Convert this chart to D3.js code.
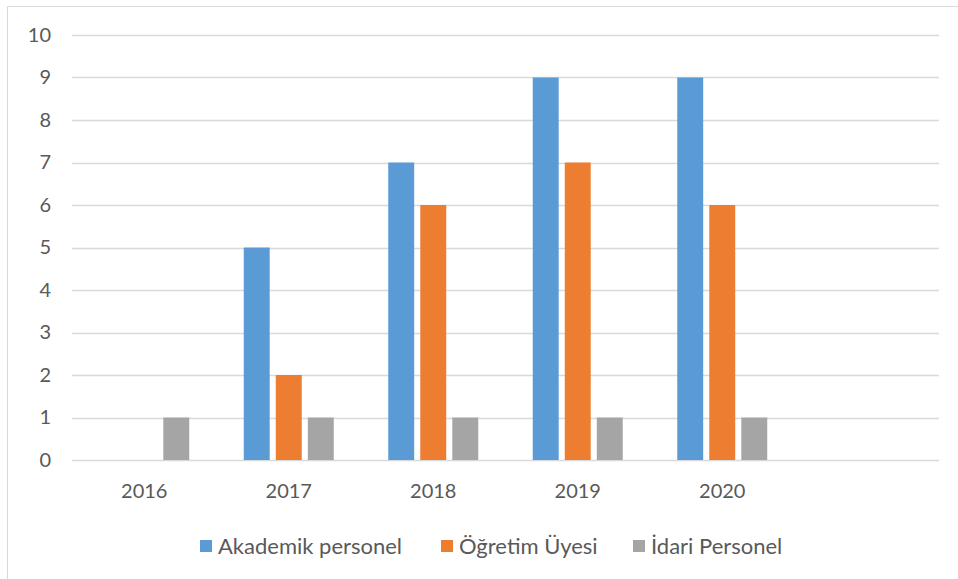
<!DOCTYPE html>
<html>
<head>
<meta charset="utf-8">
<script src="https://cdn.jsdelivr.net/npm/d3@7"></script>
<style>
  body { margin: 0; background: #fff; }
  svg text { font-family: Lato, "Open Sans", sans-serif; fill: #595959; }
</style>
</head>
<body>
<div id="chart"></div>
<script>
var years = ["2016", "2017", "2018", "2019", "2020", ""]
var seriesNames = ["Akademik personel", "Öğretim Üyesi", "İdari Personel"]
var akademik = [0, 5, 7, 9, 9, null]
var ogretim = [0, 2, 6, 7, 6, null]
var idari = [1, 1, 1, 1, 1, null]
var colors = ["#5B9BD5", "#ED7D31", "#A5A5A5"]
var yTicks = [0, 1, 2, 3, 4, 5, 6, 7, 8, 9, 10]

var width = 958, height = 579
var margin = { top: 35, left: 72, right: 19, bottom: 119 }
var chartWidth = width - margin.left - margin.right
var chartHeight = height - margin.top - margin.bottom

var svg = d3.select("#chart").append("svg")
    .attr("width", width).attr("height", height)

svg.append("rect")
    .attr("x", 7.5).attr("y", 6.5)
    .attr("width", 1000).attr("height", 1000)
    .attr("fill", "none").attr("stroke", "#D9D9D9")

var g = svg.append("g").attr("transform", "translate(" + [margin.left, margin.top] + ")")

var x = d3.scaleBand().domain(years).range([0, chartWidth])
var groupW = 90
var x1 = d3.scaleBand().domain(seriesNames)
    .range([(x.bandwidth() - groupW) / 2, (x.bandwidth() + groupW) / 2])
    .paddingInner(0.19)
var y = d3.scaleLinear().domain([0, 10]).range([chartHeight, 0])

g.append("g").selectAll("line").data(yTicks).enter().append("line")
    .attr("x1", 0).attr("x2", chartWidth)
    .attr("y1", function(d) { return Math.round(y(d)) + 0.5 })
    .attr("y2", function(d) { return Math.round(y(d)) + 0.5 })
    .attr("stroke", "#D9D9D9").attr("stroke-width", 1.5)

var yAxis = g.append("g").call(d3.axisLeft(y).tickValues(yTicks).tickSize(0).tickPadding(21))
yAxis.select(".domain").remove()
yAxis.selectAll("text").style("font-size", "20px").attr("fill", "#595959")

var xAxis = g.append("g").attr("transform", "translate(0," + chartHeight + ")")
    .call(d3.axisBottom(x).tickSize(0).tickPadding(24))
xAxis.select(".domain").remove()
xAxis.selectAll("text").style("font-size", "20px").attr("fill", "#595959")

var data = [akademik, ogretim, idari]
data.forEach(function(vals, si) {
  g.append("g").selectAll("rect")
    .data(years.map(function(yr, i) { return { yr: yr, v: vals[i] } })
      .filter(function(d) { return d.v })
    )
    .enter().append("rect")
    .attr("x", function(d) { return x(d.yr) + x1(seriesNames[si]) })
    .attr("width", x1.bandwidth())
    .attr("y", function(d) { return y(d.v) })
    .attr("height", function(d) { return y(0) - y(d.v) })
    .attr("fill", colors[si])
})

// legend
var legend = svg.append("g")
var lx = [200, 441, 633]
seriesNames.forEach(function(name, i) {
  legend.append("rect")
    .attr("x", lx[i]).attr("y", 540).attr("width", 12).attr("height", 12)
    .attr("fill", colors[i])
  legend.append("text")
    .attr("x", lx[i] + 18).attr("y", 554)
    .style("font-size", "22px")
    .text(name)
})
</script>
</body>
</html>
